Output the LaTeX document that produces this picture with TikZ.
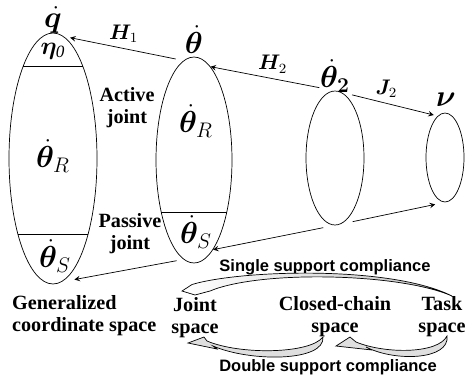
\documentclass[tikz,border=0pt]{standalone}
\usepackage{fontspec}
\setmainfont{Liberation Serif}
\setsansfont{Liberation Sans}
\usepackage{amsmath,bm}
\usetikzlibrary{shapes.geometric, arrows, calc}
\tikzstyle{arrow} = [thin,->,>=stealth]
\tikzstyle{space} = [ellipse, draw, thin, inner sep=0pt]
\tikzstyle{sym} = [font=\fontsize{17}{20}\selectfont, inner sep=0pt]
\tikzstyle{map} = [font=\fontsize{12}{14}\selectfont, inner sep=1pt]
\tikzstyle{txt} = [font=\fontsize{11.5}{12.5}\selectfont\bfseries, align=center, inner sep=1pt]
\tikzstyle{mode} = [font=\sffamily\bfseries\fontsize{9.4}{11}\selectfont, inner sep=1pt]
\tikzstyle{band} = [draw, line width=0.4pt]

\begin{document}
\begin{tikzpicture}[x=0.02cm, y=-0.02cm]
        \useasboundingbox (0,0) rectangle (466,383);

        % velocity spaces
        \node[space, minimum width=1.76cm, minimum height=5.02cm] (q) at (53,158.5) {};
        \node[space, minimum width=1.52cm, minimum height=4.12cm] (th) at (194,160) {};
        \node[space, minimum width=1.16cm, minimum height=2.68cm] (thtwo) at (335,158) {};
        \node[space, minimum width=0.76cm, minimum height=1.78cm] (v) at (445,157.5) {};

        \draw ($(q.center)+(-30,-92)$) -- ($(q.center)+(30,-92)$);
        \draw ($(q.center)+(-35,76)$) -- ($(q.center)+(35,76)$);
        \draw ($(th.center)+(-32.8,52)$) -- ($(th.center)+(32.8,52)$);

        \node[sym] (qdot) at (53,20) {$\bm{\dot{q}}$};
        \node[font=\fontsize{14}{16}\selectfont, inner sep=0pt] (eta) at (53,51) {$\bm{\eta}_{\mathit{0}}$};
        \node[sym] (thRq) at (53,156) {$\bm{\dot{\theta}}_{R}$};
        \node[sym] (thSq) at (55,256) {$\bm{\dot{\theta}}_{S}$};
        \node[sym] (thdot) at (194,40) {$\bm{\dot{\theta}}$};
        \node[sym] (thRth) at (196,121) {$\bm{\dot{\theta}}_{R}$};
        \node[sym] (thSth) at (196,232) {$\bm{\dot{\theta}}_{S}$};
        \node[sym] (thtwodot) at (335,76) {$\bm{\dot{\theta}_2}$};
        \node[sym] (vel) at (446,100) {$\bm{\nu}$};

        % mappings
        \draw[arrow, shorten <=0.16cm, shorten >=0.13cm] (th.96.4) -- node[map, above=2pt]{$\bm{H}_1$} (q.85.6);
        \draw[arrow, shorten <=0.32cm] (thtwo.north) -- node[map, above=2pt]{$\bm{H}_2$} (th.80);
        \draw[arrow, shorten <=0.35cm, shorten >=0.08cm] (thtwo.north) -- node[map, above=2pt]{$\bm{J}_2$} (v.100);
        \draw[arrow, shorten <=0.36cm, shorten >=0.2cm] (thtwo.south) -- (v.south);
        \draw[arrow, shorten <=0.24cm] (thtwo.south) -- (th.-78);
        \draw[arrow, shorten <=0.14cm, shorten >=0.26cm] (th.-96) -- (q.-86.7);

        \node[txt] (active) at (127,108) {Active\\joint};
        \node[txt] (passive) at (130,234) {Passive\\joint};
        \node[txt, align=left, anchor=west] (gcs) at (10,316) {Generalized\\coordinate space};
        \node[txt] (js) at (195,318) {Joint\\space};
        \node[txt] (ccs) at (335,317) {Closed-chain\\space};
        \node[txt] (ts) at (442,317) {Task\\space};
        \node[mode] (ssc) at (325,267) {Single support compliance};
        \node[mode] (dsc) at (328,367) {Double support compliance};

        % compliance arrows
        \shadedraw[band, left color=white, right color=gray!45] (182,291) -- (192,284.5)
            .. controls (240,270) and (390,265) .. (452,296)
            .. controls (400,273) and (260,270) .. (210,291) -- (195,295) -- cycle;
        \filldraw[band, fill=gray!25] (336,346) -- (350,337) -- (356,342)
            .. controls (385,354) and (438,354) .. (447,336)
            .. controls (450,360) and (395,362) .. (366,347) -- (372,350) -- cycle;
        \filldraw[band, fill=gray!25] (188,343) -- (204,337) -- (207,341)
            .. controls (240,355) and (310,354) .. (323,337)
            .. controls (325,362) and (250,362) .. (213,346) -- (217,349) -- cycle;
\end{tikzpicture}
\end{document}
